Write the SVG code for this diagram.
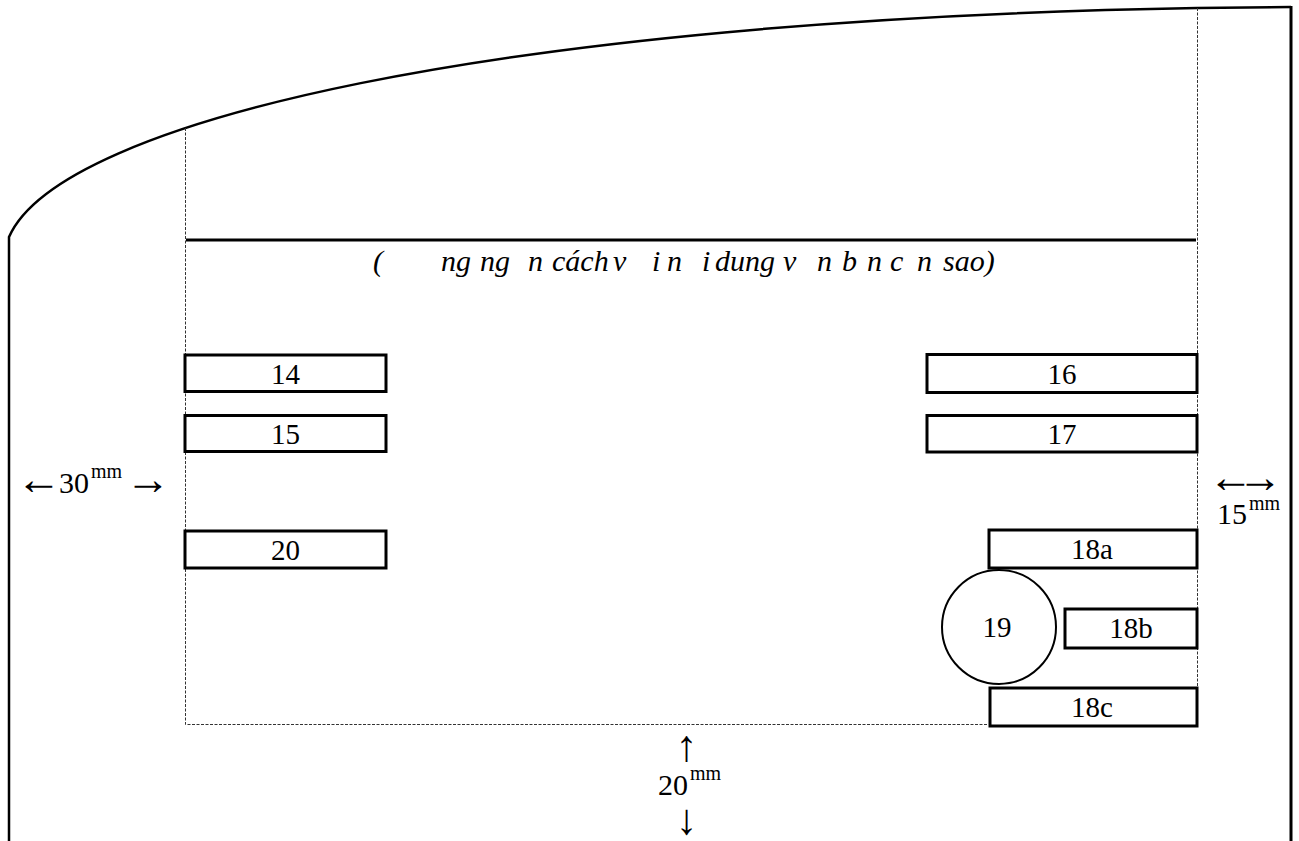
<svg xmlns="http://www.w3.org/2000/svg" width="1299" height="841" viewBox="0 0 1299 841">
<style>
.frame{fill:none;stroke:#000;stroke-width:2.5}
.rule{fill:none;stroke:#000;stroke-width:3}
.dash{fill:none;stroke:#333;stroke-width:1;stroke-dasharray:3 1.5}
.box{fill:#fff;stroke:#000;stroke-width:3}
.circ{fill:#fff;stroke:#000;stroke-width:2}
text{font-family:'Liberation Serif','DejaVu Serif',serif;fill:#000}
.lbl{font-size:29px;text-anchor:middle}
.dim{font-size:30px}
.arr{font-size:45px;text-anchor:middle}
.sup{font-size:20px}
.ital{font-size:30px;font-style:italic}
</style>
<rect width="1299" height="841" fill="#fff"/>
<g id="frame">
<path class="frame" d="M9,841 V237 C60,120 500,20 1197,8 L1291,7"/>
<path class="frame" d="M1291,6 V841" style="stroke-width:3"/>
</g>
<g id="margins">
<path class="dash" d="M185.5,128 V724.5 H988"/>
<path class="dash" d="M1197.5,8 V727"/>
</g>
<g id="header">
<path class="rule" d="M186,240 H1196"/>
<text class="ital" y="271"><tspan x="373">(</tspan><tspan x="441">ng</tspan><tspan x="480">ng</tspan><tspan x="528">n</tspan><tspan x="552">cách</tspan><tspan x="613">v</tspan><tspan x="652">i</tspan><tspan x="667">n</tspan><tspan x="702">i</tspan><tspan x="715">dung</tspan><tspan x="783">v</tspan><tspan x="817">n</tspan><tspan x="842">b</tspan><tspan x="867">n</tspan><tspan x="890">c</tspan><tspan x="917">n</tspan><tspan x="943">sao)</tspan></text>
</g>
<g id="n14"><rect class="box" x="185" y="355" width="201" height="36.5"/><text class="lbl" x="285.5" y="383.5">14</text></g>
<g id="n15"><rect class="box" x="185" y="415.5" width="201" height="36"/><text class="lbl" x="285.5" y="443.5">15</text></g>
<g id="n20"><rect class="box" x="185" y="531" width="201" height="37"/><text class="lbl" x="285.5" y="559.5">20</text></g>
<g id="n16"><rect class="box" x="927" y="354.5" width="270" height="38"/><text class="lbl" x="1062" y="383.5">16</text></g>
<g id="n17"><rect class="box" x="927" y="415.5" width="270" height="36.5"/><text class="lbl" x="1062" y="443.5">17</text></g>
<g id="n18a"><rect class="box" x="989" y="530" width="208" height="38"/><text class="lbl" x="1092" y="559">18a</text></g>
<g id="n19"><circle class="circ" cx="999" cy="627" r="57"/><text class="lbl" x="997" y="637">19</text></g>
<g id="n18b"><rect class="box" x="1065" y="609" width="132" height="39"/><text class="lbl" x="1131" y="638">18b</text></g>
<g id="n18c"><rect class="box" x="990" y="688" width="207" height="38"/><text class="lbl" x="1092" y="717">18c</text></g>
<g id="dims">
<text class="arr" x="39" y="494">←</text>
<text class="dim" x="59" y="493">30</text>
<text class="sup" x="91" y="478">mm</text>
<text class="arr" x="148" y="494">→</text>
<text class="arr" y="492"><tspan x="1231">←</tspan><tspan x="1260">→</tspan></text>
<text class="dim" x="1217" y="524">15</text>
<text class="sup" x="1249" y="510">mm</text>
<text class="arr" x="686.5" y="761" style="font-size:44px">↑</text>
<text class="dim" x="658" y="795">20</text>
<text class="sup" x="690" y="780">mm</text>
<text class="arr" x="686.5" y="834" style="font-size:43px">↓</text>
</g>
</svg>
